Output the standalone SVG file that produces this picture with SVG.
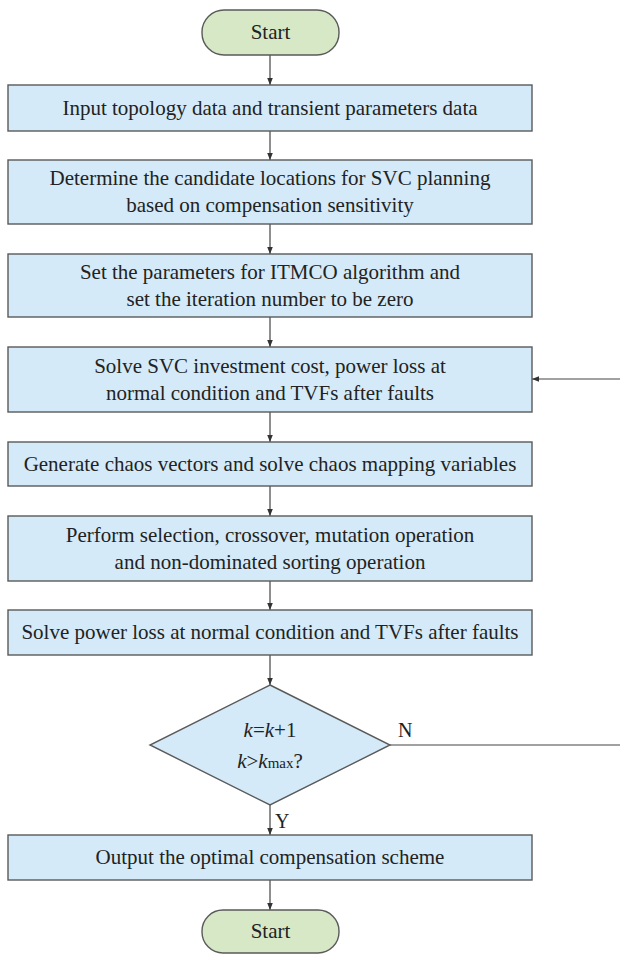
<svg xmlns="http://www.w3.org/2000/svg" width="620" height="954" viewBox="0 0 620 954">
<defs>
<marker id="ah" viewBox="0 0 10 10" refX="10" refY="5" markerWidth="7" markerHeight="7" markerUnits="userSpaceOnUse" orient="auto">
<path d="M0,1 L10,5 L0,9 z" fill="#333"/>
</marker>
<style>
.box{fill:#d4eaf8;stroke:#5a5a5a;stroke-width:1.4}
.term{fill:#d6e8c6;stroke:#5a5a5a;stroke-width:1.4}
.t{font-family:"Liberation Serif","Times New Roman",serif;font-size:21px;fill:#222;text-anchor:middle}
.l{font-family:"Liberation Serif","Times New Roman",serif;font-size:20px;fill:#222}
.c{fill:none;stroke:#444;stroke-width:1.2;marker-end:url(#ah)}
</style>
</defs>
<rect width="620" height="954" fill="#ffffff"/>
<g id="connectors">
<path class="c" d="M270,55 V85"/>
<path class="c" d="M270,131 V160"/>
<path class="c" d="M270,224 V254"/>
<path class="c" d="M270,317 V347"/>
<path class="c" d="M270,412 V442"/>
<path class="c" d="M270,486 V516"/>
<path class="c" d="M270,581 V610"/>
<path class="c" d="M270,655 V685"/>
<path class="c" d="M270,805 V835"/>
<path class="c" d="M270,880 V910"/>
<path class="c" d="M390,745 H623 V379 H532"/>
</g>
<g id="start">
<rect class="term" x="202" y="10" width="137" height="45" rx="22" ry="22"/>
<text class="t" x="270.5" y="39">Start</text>
</g>
<g id="n1">
<rect class="box" x="8" y="85" width="524" height="46"/>
<text class="t" x="270" y="115">Input topology data and transient parameters data</text>
</g>
<g id="n2">
<rect class="box" x="8" y="160" width="524" height="64"/>
<text class="t" x="270" y="185">Determine the candidate locations for SVC planning</text>
<text class="t" x="270" y="212">based on compensation sensitivity</text>
</g>
<g id="n3">
<rect class="box" x="8" y="254" width="524" height="63"/>
<text class="t" x="270" y="279">Set the parameters for ITMCO algorithm and</text>
<text class="t" x="270" y="306">set the iteration number to be zero</text>
</g>
<g id="n4">
<rect class="box" x="8" y="347" width="524" height="65"/>
<text class="t" x="270" y="373">Solve SVC investment cost, power loss at</text>
<text class="t" x="270" y="400">normal condition and TVFs after faults</text>
</g>
<g id="n5">
<rect class="box" x="8" y="442" width="524" height="44"/>
<text class="t" x="270" y="471">Generate chaos vectors and solve chaos mapping variables</text>
</g>
<g id="n6">
<rect class="box" x="8" y="516" width="524" height="65"/>
<text class="t" x="270" y="542">Perform selection, crossover, mutation operation</text>
<text class="t" x="270" y="569">and non-dominated sorting operation</text>
</g>
<g id="n7">
<rect class="box" x="8" y="610" width="524" height="45"/>
<text class="t" x="270" y="639">Solve power loss at normal condition and TVFs after faults</text>
</g>
<g id="decision">
<polygon class="box" points="270,685 390,745 270,805 150,745"/>
<text class="t" x="270" y="737"><tspan font-style="italic">k</tspan>=<tspan font-style="italic">k</tspan>+1</text>
<text class="t" x="270" y="768"><tspan font-style="italic">k</tspan>&gt;<tspan font-style="italic">k</tspan><tspan font-size="15px">max</tspan>?</text>
<text class="l" x="398" y="737">N</text>
<text class="l" x="275" y="828">Y</text>
</g>
<g id="n8">
<rect class="box" x="8" y="835" width="524" height="45"/>
<text class="t" x="270" y="864">Output the optimal compensation scheme</text>
</g>
<g id="end">
<rect class="term" x="202" y="910" width="137" height="43" rx="21" ry="21"/>
<text class="t" x="270.5" y="938">Start</text>
</g>
</svg>
